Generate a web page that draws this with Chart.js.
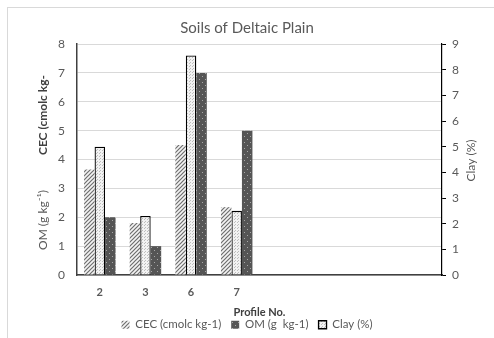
<!DOCTYPE html>
<html>
<head>
<meta charset="utf-8">
<script src="https://cdn.jsdelivr.net/npm/chart.js@4.4.0/dist/chart.umd.min.js"></script>
<style>
html, body { margin: 0; padding: 0; background: #fff; }
#wrap { position: relative; width: 494px; height: 338px; overflow: hidden; }
#frame { position: absolute; left: 7px; top: 7px; width: 600px; height: 400px; border-left: 1px solid #d9d9d9; border-top: 1px solid #d9d9d9; }
#chart { position: absolute; left: 0; top: 0; }
</style>
</head>
<body>
<div id="wrap">
<div id="frame"></div>
<canvas id="chart" width="494" height="338"></canvas>
</div>
<script>
// chart values
var profiles = ["2", "3", "6", "7", "", "", "", ""];
var cecValues = [3.65, 1.8, 4.5, 2.35];
var omValues = [2, 1, 7, 5];
var clayValues = [5, 2.3, 8.55, 2.5];
var leftTicks = [0, 1, 2, 3, 4, 5, 6, 7, 8];
var rightTicks = [0, 1, 2, 3, 4, 5, 6, 7, 8, 9];

var FONT = "Lato, 'Open Sans', sans-serif";
var GREY = "#595959";

function makePattern(size, draw) {
	var c = document.createElement("canvas");
	c.width = size; c.height = size;
	var g = c.getContext("2d");
	draw(g);
	return g.createPattern(c, "repeat");
}

// hatched for CEC
var cecFill = makePattern(4, function (g) {
	g.fillStyle = "#f4f4f4";
	g.fillRect(0, 0, 4, 4);
	g.strokeStyle = "#6e6e6e";
	g.lineWidth = 1.2;
	g.beginPath();
	g.moveTo(-1, 5); g.lineTo(5, -1);
	g.moveTo(-1, 1); g.lineTo(1, -1);
	g.moveTo(3, 5); g.lineTo(5, 3);
	g.stroke();
});
// light dotted for clay
var clayFill = makePattern(3, function (g) {
	g.fillStyle = "#f2f2f2";
	g.fillRect(0, 0, 3, 3);
	g.fillStyle = "#bdbdbd";
	g.fillRect(0, 0, 1, 1);
	g.fillRect(1, 2, 1, 1);
});
// dark with light dots for OM
var omFill = makePattern(6, function (g) {
	g.fillStyle = "#555555";
	g.fillRect(0, 0, 6, 6);
	g.fillStyle = "#a8a8a8";
	g.fillRect(1, 1, 1, 1);
	g.fillRect(4, 4, 1, 1);
});

function rotatedText(ctx, text, x, y, font, color) {
	ctx.save();
	ctx.textAlign = "center";
	ctx.textBaseline = "middle";
	ctx.translate(x, y);
	ctx.rotate(-Math.PI / 2);
	ctx.fillStyle = color;
	ctx.font = font;
	ctx.fillText(text, 0, 0);
	ctx.restore();
}

// axis titles: two stacked on the left, one on the right, all reading upwards
var axisTitles = {
	id: "axisTitles",
	afterDraw: function (chart) {
		var ctx = chart.ctx;
		var a = chart.chartArea;
		rotatedText(ctx, "CEC (cmolc kg-", 43, 115, "bold 12px " + FONT, "#404040");
		rotatedText(ctx, "OM (g kg\u207B\u00B9)", 43, 220, "12px " + FONT, GREY);
		rotatedText(ctx, "Clay (%)", 471, (a.top + a.bottom) / 2 + 1, "12px " + FONT, GREY);
	}
};

var legendOrder = ["CEC (cmolc kg-1)", "OM (g  kg-1)", "Clay (%)"];

new Chart(document.getElementById("chart"), {
	type: "bar",
	data: {
		labels: profiles,
		datasets: [
			{ label: "CEC (cmolc kg-1)", data: cecValues, yAxisID: "y", backgroundColor: cecFill, borderWidth: 0 },
			{ label: "Clay (%)", data: clayValues, yAxisID: "y1", backgroundColor: clayFill, borderColor: "#000", borderWidth: 1.3 },
			{ label: "OM (g  kg-1)", data: omValues, yAxisID: "y", backgroundColor: omFill, borderWidth: 0 }
		]
	},
	options: {
		responsive: false,
		animation: false,
		layout: { padding: { left: 0, right: 0, top: 0, bottom: 5 } },
		categoryPercentage: 0.69,
		barPercentage: 1,
		plugins: {
			title: {
				display: true,
				text: "Soils of Deltaic Plain",
				color: GREY,
				font: { family: FONT, size: 15, weight: "normal" },
				padding: { top: 19, bottom: 7 }
			},
			legend: {
				position: "bottom",
				maxHeight: 24,
				labels: {
					color: GREY,
					font: { family: FONT, size: 11.5 },
					boxWidth: 8,
					boxHeight: 8,
					padding: 10,
					sort: function (a, b) {
						return legendOrder.indexOf(a.text) - legendOrder.indexOf(b.text);
					}
				}
			},
			tooltip: { enabled: false }
		},
		scales: {
			x: {
				afterFit: function (s) { s.height = 34; },
				grid: { display: false },
				border: { color: "#404040", width: 1.5 },
				ticks: { color: GREY, font: { family: FONT, size: 11, weight: "bold" }, padding: 3 },
				title: { display: true, text: "Profile No.", color: "#404040", font: { family: FONT, size: 11, weight: "bold" }, padding: { top: 0, bottom: -10 } }
			},
			y: {
				position: "left",
				min: 0, max: 8,
				afterBuildTicks: function (s) { s.ticks = leftTicks.map(function (v) { return { value: v }; }); },
				afterFit: function (s) { s.width = 77; },
				grid: { color: "#d9d9d9", drawTicks: false },
				border: { color: "#404040", width: 1.5 },
				ticks: { color: GREY, font: { family: FONT, size: 12 }, padding: 12 }
			},
			y1: {
				position: "right",
				min: 0, max: 9,
				afterBuildTicks: function (s) { s.ticks = rightTicks.map(function (v) { return { value: v }; }); },
				afterFit: function (s) { s.width = 52; },
				grid: { drawOnChartArea: false, drawTicks: true, tickLength: 4, color: "#000" },
				border: { color: "#000", width: 1.2 },
				ticks: { color: GREY, font: { family: FONT, size: 12 }, padding: 6 }
			}
		}
	},
	plugins: [axisTitles]
});
</script>
</body>
</html>
